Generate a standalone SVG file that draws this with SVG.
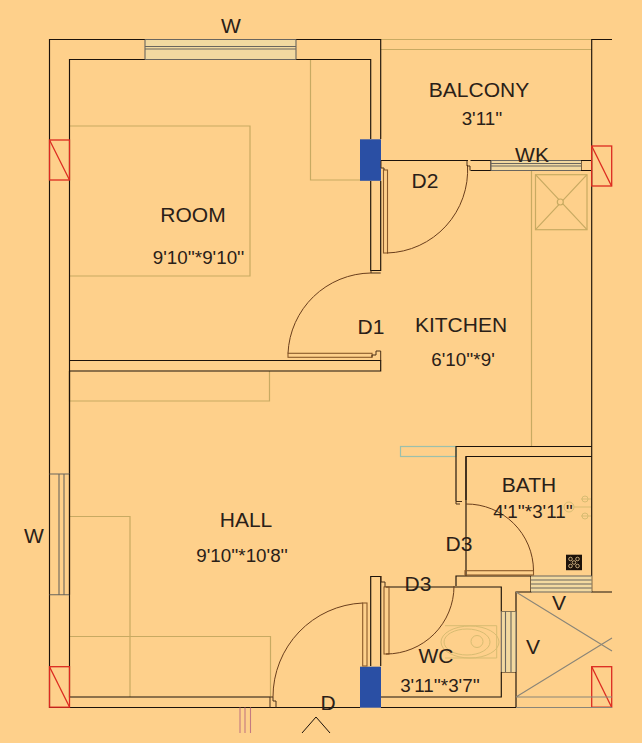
<svg xmlns="http://www.w3.org/2000/svg" width="642" height="743" viewBox="0 0 642 743">
<style>
.w{fill:none;stroke:#1c120a;stroke-width:1.15}
.b{fill:none;stroke:#4a3018;stroke-width:1}
.t{fill:none;stroke:#c8aa62;stroke-width:1.2}
.f{fill:none;stroke:#d8bc72;stroke-width:1}
.r{fill:none;stroke:#dc2a20;stroke-width:1.3}
.g{fill:none;stroke:#8a8578;stroke-width:1.1}
.win{fill:none;stroke:#6a665e;stroke-width:1.1}
.wf{fill:#f2d9a0}
.s{fill:#2a4fa4}
.d{fill:none;stroke:#6a3e1c;stroke-width:1}
.p{fill:none;stroke:#8a5a2a;stroke-width:1.1}
text{font-family:"Liberation Sans",Arial,sans-serif;fill:#2a2018;text-anchor:middle}
.l{font-size:21px}
.m{font-size:18.800px}
</style>
<rect width="642" height="743" fill="#fed08b"/>
<g id="furniture">
<path class="t" d="M381 49.500H592M381 39.500H592"/>
<path class="t" d="M69.500 126H250V276H69.500M310.500 59.500V180H360M69.500 371V401H269.500V371M69.500 516.500H130V697M69.500 636.500H270.500V697"/>
<path class="t" d="M531.500 170.500V446.500"/>
<g id="shower">
<rect class="t" x="535.500" y="174.700" width="51.500" height="55"/>
<path class="t" d="M535.500 174.700L587 229.700M587 174.700L535.500 229.700"/>
<circle cx="560.300" cy="202" r="3" fill="#fed08b" stroke="#c8aa62" stroke-width="1.200"/>
</g>
<g id="toilet">
<path class="f" d="M445 625.700H496.700V658H445"/>
<ellipse class="f" cx="470" cy="642" rx="29" ry="16"/>
<ellipse class="f" cx="467" cy="642" rx="23" ry="13"/>
<circle class="f" cx="477" cy="641.500" r="6"/>
</g>
<g id="taps">
<circle class="f" cx="569" cy="507" r="5"/>
<path class="f" d="M574 507H591M581 499H591M581 516H591"/>
<circle class="f" cx="585" cy="499" r="3"/>
<circle class="f" cx="585" cy="516" r="3"/>
</g>
<rect x="400.500" y="446.500" width="55.500" height="10" fill="none" stroke="#9cc0ac" stroke-width="1.200"/>
</g>
<g id="walls">
<path class="w" d="M145 39.500H49.500V707.500H360M69.500 474V59.500H145M296 39.500H380.700V139M296 59.500H370.700V139"/>
<path class="w" d="M69.500 360.500H380.700V371H69.500M69.500 371V697H270"/>
<path class="w" d="M612 39.500H591.700V592H612"/>
<path class="w" d="M370.700 181V270.500H380.700V181"/>
<path class="w" d="M381 160.500H468M470.500 160.500H491V170.500H470.500M581 160.500H591.700M581 170.500H591.700M581 160.500V170.500"/>
<path class="w" d="M456 501.500V446.500H591.700M466 500V456.500H591.700"/>
<path class="w" d="M466 456.500V576M456 586V576H531V592H516V707.500H381"/>
<path class="w" d="M370.700 666V576.500H380.700V666"/>
<path class="w" d="M386 587H501.300V611.500M501.300 672V697H381"/>
<path class="w" d="M501.300 611.500H516M501.300 672H516"/>
</g>
<g id="columns">
<rect class="s" x="360" y="139.300" width="21" height="41.500"/>
<rect class="s" x="360" y="666.700" width="21" height="41"/>
<rect class="r" x="49.500" y="140" width="20" height="40"/><path class="r" d="M49.500 140L69.500 180"/>
<rect class="r" x="49.500" y="666.700" width="20" height="40.500"/><path class="r" d="M49.500 666.700L69.500 707"/>
<rect class="r" x="591.700" y="146" width="20" height="40"/><path class="r" d="M591.700 146L611.500 186"/>
<rect class="r" x="591.700" y="666.700" width="20" height="40.500"/><path class="r" d="M591.700 666.700L611.500 707"/>
</g>
<g id="windows">
<rect class="wf" x="145" y="39.500" width="151" height="20"/>
<path class="win" d="M145 39.500H296M145 46.500H296M145 49H296M145 59.500H296M145 39.500V59.500M296 39.500V59.500"/>
<path class="win" d="M49.500 474H69.500M49.500 594.700H69.500M59 474V594.700M64 474V594.700"/>
<path class="w" d="M69.500 474V594.700"/>
<rect class="wf" x="491" y="160.500" width="90" height="10"/>
<path class="win" d="M491 160.500H581M491 163.500H581M491 166H581M491 170.500H581M491 160.500V170.500"/>
<rect class="wf" x="531" y="576" width="60.700" height="16"/>
<path class="win" d="M531 576H591.700M531 580H591.700M531 584H591.700M531 588H591.700M531 592H591.700"/>
<rect class="wf" x="501.300" y="611.500" width="14.700" height="60.500"/>
<path class="win" d="M501.300 611.500V672M505.500 611.500V672M511 611.500V672M516 611.500V672"/>
</g>
<g id="ventilation">
<path class="g" d="M516 592L612 651M516 697L612 638M516 697H612M516 707.500H612"/>
</g>
<g id="doors">
<g id="door-d2"><rect class="p" x="383.500" y="170" width="4" height="83"/><path class="d" d="M387 253A83 83 0 0 0 467.500 165"/><path class="b" d="M381 160.500V168H384V170M467 160.500V166H470V170.500"/></g>
<g id="door-d1"><rect class="p" x="288" y="353.300" width="84" height="4"/><path class="d" d="M288 353.300A84 84 0 0 1 371 273"/><path class="b" d="M371 270.500V273H380.700M372 357.300V355H376V351H380.700V360.500"/></g>
<g id="door-d"><rect class="p" x="362.700" y="603" width="4.300" height="63"/><path class="d" d="M273 697A94 94 0 0 1 362.700 603"/><path class="b" d="M270 697V707.500M270 697H273V701H276V707.500"/></g>
<g id="door-d3-bath"><rect class="p" x="465" y="570.700" width="68.500" height="4.300"/><path class="d" d="M533.500 570.700A67 67 0 0 0 466 504"/><path class="b" d="M456 501.500H462M456 501.500V504H460"/></g>
<g id="door-d3-wc"><rect class="p" x="384" y="587" width="5" height="67"/><path class="d" d="M386 654A68 68 0 0 0 454 586"/><path class="b" d="M381 576V582H385V587"/></g>
</g>
<g id="entry">
<path d="M240 707.500V733M245 707.500V733M250.500 707.500V733" fill="none" stroke="#c47a80" stroke-width="1.100"/>
<path d="M302 733L316 717L330 733" fill="none" stroke="#1c120a" stroke-width="1"/>
</g>
<g id="labels">
<text class="l" x="231" y="33">W</text>
<text class="l" x="479" y="97">BALCONY</text>
<text class="m" x="482" y="125">3'11''</text>
<text class="l" x="532" y="162">WK</text>
<text class="l" x="425" y="187.500">D2</text>
<text class="l" x="193" y="222">ROOM</text>
<text class="m" x="198.500" y="264">9'10''*9'10''</text>
<text class="l" x="371" y="333.500">D1</text>
<text class="l" x="461" y="332">KITCHEN</text>
<text class="m" x="463" y="366">6'10''*9'</text>
<text class="l" x="529" y="492">BATH</text>
<text class="m" x="533" y="518">4'1''*3'11''</text>
<text class="l" x="34" y="543">W</text>
<text class="l" x="246" y="527">HALL</text>
<text class="m" x="242" y="562">9'10''*10'8''</text>
<text class="l" x="459" y="551">D3</text>
<text class="l" x="418" y="591">D3</text>
<text class="l" x="559" y="610">V</text>
<text class="l" x="533" y="654">V</text>
<text class="l" x="436" y="663">WC</text>
<text class="m" x="440" y="692">3'11''*3'7''</text>
<text class="l" x="328" y="710">D</text>
</g>
<g id="trap">
<rect x="566" y="554.700" width="16" height="15.500" fill="#1c120a"/>
<g fill="none" stroke="#e8c890" stroke-width="0.800">
<circle cx="570.500" cy="559" r="1.800"/><circle cx="577.500" cy="559" r="1.800"/><circle cx="570.500" cy="566" r="1.800"/><circle cx="577.500" cy="566" r="1.800"/><circle cx="574" cy="562.500" r="1.800"/>
</g>
</g>
</svg>
